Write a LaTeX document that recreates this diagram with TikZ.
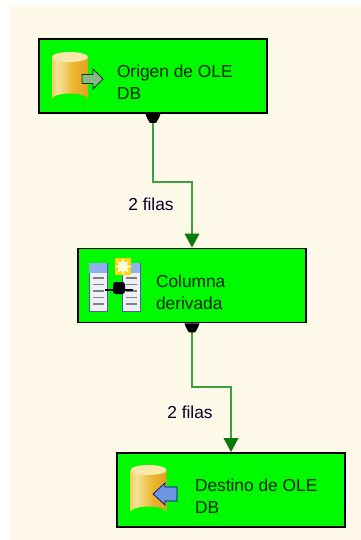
\documentclass[tikz,border=0pt]{standalone}
\usepackage{fontspec}
\setmainfont{Liberation Sans}
\usetikzlibrary{arrows.meta,shapes.geometric}

%colores
\definecolor{crema}{HTML}{FEF9E8}
\definecolor{verdecaja}{HTML}{00FA00}
\definecolor{verdeflecha}{HTML}{0A7A0A}
\definecolor{verdelinea}{HTML}{3DA23D}
\definecolor{azulcab}{HTML}{8FB0EC}
\definecolor{papel}{HTML}{EEF0F8}
\definecolor{oroA}{HTML}{D4941E}
\definecolor{oroB}{HTML}{EFC455}
\definecolor{oroC}{HTML}{F7E49A}
\definecolor{oroD}{HTML}{EBB530}
\definecolor{oroE}{HTML}{D08C12}
\definecolor{verdeicono}{HTML}{86B886}
\definecolor{azulicono}{HTML}{6C95E0}

\pgfdeclarehorizontalshading{oro}{100bp}{color(0bp)=(oroA);
  color(22bp)=(oroB);color(33bp)=(oroC);
  color(55bp)=(oroD);color(100bp)=(oroE)}

\tikzset{
  caja/.style={draw=black,line width=1.4pt,fill=verdecaja,minimum width=171pt,minimum height=55.5pt,inner sep=0pt},
  rotulo/.style={anchor=west,align=left,inner sep=0pt,yshift=-5pt,font=\fontsize{13}{16.5}\selectfont,text=black!85!green},
  filas/.style={inner sep=0pt,font=\fontsize{13}{14}\selectfont,text=black!85!blue},
  enlace/.style={verdelinea,line width=1.3pt,-{Triangle[width=11pt,length=10.5pt,color=verdeflecha]}},
  % cilindro de la base de datos
  cilindro/.pic={
    \path[shade,shading=oro] (-18,-21) -- (-18,21) arc (180:360:18 and 5.5) -- (18,-21) -- cycle;
    \fill[oroC!85!white] (0,-21) ellipse (18 and 5);
  },
  % flecha de salida
  flechaverde/.pic={
    \fill[verdeicono,draw=green!25!black,line width=.7pt] (0,-4.5) -- (11,-4.5) -- (11,-10) -- (21,0) -- (11,10) -- (11,4.5) -- (0,4.5) -- cycle;
  },
  % flecha de entrada
  flechaazul/.pic={
    \fill[azulicono,draw=blue!45!black,line width=.5pt] (0,0) -- (12,-11) -- (12,-7) -- (24,-7) -- (24,7) -- (12,7) -- (12,11) -- cycle;
  },
  % tabla con sus renglones
  tabla/.pic={
    \fill[papel,draw=gray!70!blue,line width=.7pt] (0,0) rectangle (18,48);
    \fill[azulcab] (0,0) rectangle (18,10);
    \foreach \y in {15,21.5,...,44}
      \draw[gray,line width=1.4pt] (4,\y) -- (15,\y);
  },
  puerto/.pic={
    \fill[black] (-7.5,0) -- (7.5,0) -- (6,4) -- (3,9) -- (-3,9) -- (-6,4) -- cycle;
  }
}

\begin{document}
\begin{tikzpicture}[x=.75pt,y=-.75pt]
        % Fondo
        \useasboundingbox[fill=white] (0,0) rectangle (361,540);
        \fill[crema] (10,5) rectangle (361,540);

        % Cajas
        \node[caja] (origen) at (153,76) {};
        \node[caja] (columna) at (192,285.5) {};
        \node[caja] (destino) at (231,490) {};

        % Codos de los enlaces
        \coordinate (codoA) at (192,182);
        \coordinate (codoB) at (231,387);

        % Enlaces
        \draw[enlace] (origen.south) |- (codoA) -- (columna.north);
        \draw[enlace] (columna.south) |- (codoB) -- (destino.north);
        \node[filas] (filasA) at (151,204) {2 filas};
        \node[filas] (filasB) at (190,412) {2 filas};
        \path (origen.south) pic {puerto};
        \path (columna.south) pic {puerto};

        % Iconos
        \path (70,78) pic {cilindro};
        \path (82,79) pic {flechaverde};
        \path (148.5,491) pic {cilindro};
        \path (153,494) pic {flechaazul};
        \path (89,263) pic {tabla};
        \path (122,263) pic {tabla};
        \draw[line width=1.5pt] (105,290) -- (133,290);
        \fill[rounded corners=2pt] (113,282) rectangle (125,294);
        \fill[orange!35!yellow] (115,258) rectangle (131,275);
        \node[star,star points=8,star point ratio=2,fill=yellow!15!white,inner sep=0pt,minimum size=13pt] (chispa) at (123,266.5) {};

        % Textos
        \node[rotulo] (textoOrigen) at ([xshift=59pt]origen.west) {Origen de OLE\\DB};
        \node[rotulo] (textoColumna) at ([xshift=59pt]columna.west) {Columna\\derivada};
        \node[rotulo] (textoDestino) at ([xshift=59pt]destino.west) {Destino de OLE\\DB};
    \end{tikzpicture}
\end{document}
